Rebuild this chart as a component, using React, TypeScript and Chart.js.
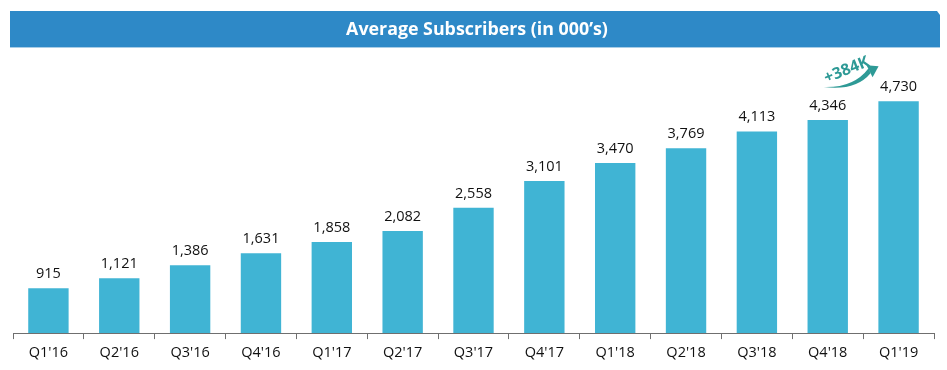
import React, { useEffect, useRef } from "react";
import { Chart, registerables } from "chart.js";

Chart.register(...registerables);

const categories = ["Q1'16", "Q2'16", "Q3'16", "Q4'16", "Q1'17", "Q2'17", "Q3'17", "Q4'17", "Q1'18", "Q2'18", "Q3'18", "Q4'18", "Q1'19"];
const subscribers = [915, 1121, 1386, 1631, 1858, 2082, 2558, 3101, 3470, 3769, 4113, 4346, 4730];
const titleText = "Average Subscribers (in 000\u2019s)";
const growthText = "+384K";

const FONT = "'Open Sans', 'Noto Sans', sans-serif";

const bannerPlugin = {
  id: "banner",
  beforeDraw(chart: any) {
    const ctx = chart.ctx;
    ctx.save();
    const x0 = 10, y0 = 11, x1 = 940, y1 = 47;
    ctx.fillStyle = "#2e89c7";
    ctx.beginPath();
    ctx.moveTo(x0, y0);
    ctx.lineTo(x1 - 3, y0);
    ctx.lineTo(x1, y0 + 4);
    ctx.lineTo(x1, y1);
    ctx.lineTo(x0, y1);
    ctx.closePath();
    ctx.fill();
    ctx.strokeStyle = "#a9cde6";
    ctx.lineWidth = 1;
    ctx.beginPath();
    ctx.moveTo(x0, y1 + 0.5);
    ctx.lineTo(x1, y1 + 0.5);
    ctx.stroke();
    ctx.fillStyle = "#ffffff";
    let size = 18;
    ctx.font = `bold ${size}px ${FONT}`;
    const w = ctx.measureText(titleText).width;
    const target = 262;
    size = size * target / w;
    ctx.font = `bold ${size}px ${FONT}`;
    ctx.textAlign = "center";
    ctx.textBaseline = "middle";
    ctx.fillText(titleText, 477, 30);
    ctx.restore();
  },
};

const labelPlugin = {
  id: "barLabels",
  afterDatasetsDraw(chart: any) {
    const ctx = chart.ctx;
    const meta = chart.getDatasetMeta(0);
    ctx.save();
    ctx.fillStyle = "#111111";
    ctx.font = `14.5px ${FONT}`;
    ctx.textAlign = "center";
    ctx.textBaseline = "alphabetic";
    meta.data.forEach((bar: any, i: number) => {
      ctx.fillText(subscribers[i].toLocaleString("en-US"), bar.x, bar.y - 10);
    });

    // growth arrow between the last two bars
    const last = meta.data[meta.data.length - 1];
    const prev = meta.data[meta.data.length - 2];
    const sx = prev.x - 4, sy = prev.y - 33;
    const ex = last.x - 21, ey = last.y - 34;
    ctx.fillStyle = "#2e9a96";
    // tapered curve
    ctx.beginPath();
    ctx.moveTo(sx, sy);
    ctx.quadraticCurveTo(sx + 32, sy + 4, ex - 7, ey + 6);
    ctx.lineTo(ex - 9, ey + 1);
    ctx.quadraticCurveTo(sx + 30, sy + 1, sx, sy);
    ctx.closePath();
    ctx.fill();
    // arrow head
    ctx.beginPath();
    ctx.moveTo(ex + 1, ey - 1);
    ctx.lineTo(ex - 11, ey - 2);
    ctx.lineTo(ex - 5, ey + 10);
    ctx.closePath();
    ctx.fill();
    // text
    ctx.save();
    ctx.translate(sx + 23, sy - 17);
    ctx.rotate(-22 * Math.PI / 180);
    ctx.font = `bold 16px ${FONT}`;
    ctx.textAlign = "center";
    ctx.textBaseline = "middle";
    ctx.fillText(growthText, 0, 0);
    ctx.restore();
    ctx.restore();
  },
};

export default function App() {
  const ref = useRef<HTMLCanvasElement | null>(null);
  useEffect(() => {
    if (!ref.current) return;
    const chart = new Chart(ref.current, {
      type: "bar",
      data: {
        labels: categories,
        datasets: [
          {
            data: subscribers,
            backgroundColor: "#40b4d4",
            borderWidth: 0,
            categoryPercentage: 1,
            barPercentage: 0.57,
          },
        ],
      },
      options: {
        animation: false,
        responsive: false,
        maintainAspectRatio: false,
        layout: { padding: { left: 13, right: 13, top: 88, bottom: 3.5 } },
        plugins: { legend: { display: false }, tooltip: { enabled: false }, title: { display: false } },
        scales: {
          x: {
            grid: {
              display: true,
              drawOnChartArea: false,
              drawTicks: true,
              tickLength: 6,
              color: "#6f6f6f",
              offset: true,
            },
            border: { display: true, color: "#6f6f6f", width: 1 },
            ticks: {
              color: "#111111",
              font: { family: FONT, size: 14.5 },
              padding: 5,
              maxRotation: 0,
              autoSkip: false,
            },
          },
          y: { display: false, min: 0, max: 5000 },
        },
      },
      plugins: [bannerPlugin, labelPlugin],
    });
    return () => chart.destroy();
  }, []);
  return (
    <div style={{ position: "absolute", left: 0, top: 0, width: 947, height: 370, background: "#fff" }}>
      <canvas ref={ref} width={947} height={370} style={{ width: 947, height: 370, display: "block" }} />
    </div>
  );
}
